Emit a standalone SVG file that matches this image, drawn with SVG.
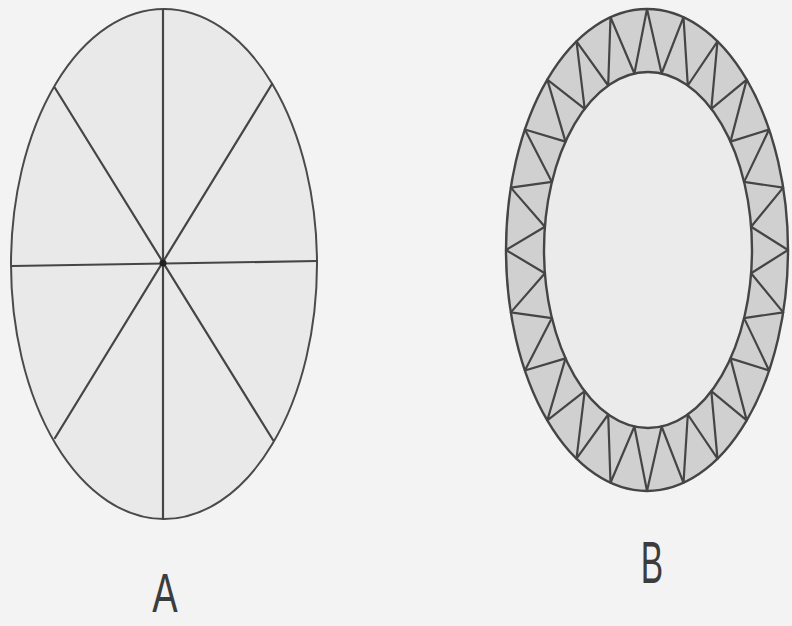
<svg xmlns="http://www.w3.org/2000/svg" width="792" height="626" viewBox="0 0 792 626">
<style>
.ln{stroke:#454545;stroke-width:2.2;fill:none;stroke-linecap:round}
.lbl{font-family:"Liberation Sans","DejaVu Sans",sans-serif;font-size:56px;fill:#3c3c3c;text-anchor:middle}
</style>
<rect width="792" height="626" fill="#f3f3f3"/>
<g id="figA">
<ellipse cx="164" cy="264" rx="153" ry="255" fill="#e9e9e9" stroke="#4a4a4a" stroke-width="2"/>
<line class="ln" x1="163" y1="10" x2="163" y2="519"/>
<line class="ln" x1="12" y1="266" x2="317" y2="261" stroke-width="3"/>
<line class="ln" x1="55" y1="88" x2="273" y2="440"/>
<line class="ln" x1="272" y1="84" x2="55" y2="438"/>
<circle cx="163" cy="263" r="3.5" fill="#222"/>
</g>
<g id="figB">
<ellipse cx="647" cy="250" rx="141" ry="241" fill="#d0d0d0" stroke="#454545" stroke-width="2.4"/>
<ellipse cx="648" cy="250" rx="104" ry="178" fill="#ebebeb" stroke="#454545" stroke-width="2.4"/>
<polygon class="ln" stroke-linejoin="round" points="788,250 751.1,273.2 783.2,312.4 744.1,318.1 769.1,370.5 730.5,358.4 746.7,420.4 711.3,391.2 717.5,458.7 687.8,414.5 683.5,482.8 661.6,426.5 647,491 634.4,426.5 610.5,482.8 608.2,414.5 576.5,458.7 584.7,391.2 547.3,420.4 565.5,358.4 524.9,370.5 551.9,318.1 510.8,312.4 544.9,273.2 506,250 544.9,226.8 510.8,187.6 551.9,181.9 524.9,129.5 565.5,141.6 547.3,79.6 584.7,108.8 576.5,41.3 608.2,85.5 610.5,17.2 634.4,73.5 647,9 661.6,73.5 683.5,17.2 687.8,85.5 717.5,41.3 711.3,108.8 746.7,79.6 730.5,141.6 769.1,129.5 744.1,181.9 783.2,187.6 751.1,226.8"/>
</g>
<g id="labels">
<text class="lbl" transform="translate(165,612) scale(0.68,1)" x="0" y="0">A</text>
<text class="lbl" transform="translate(652,583) scale(0.6,1.05)" x="0" y="0">B</text>
</g>
</svg>
